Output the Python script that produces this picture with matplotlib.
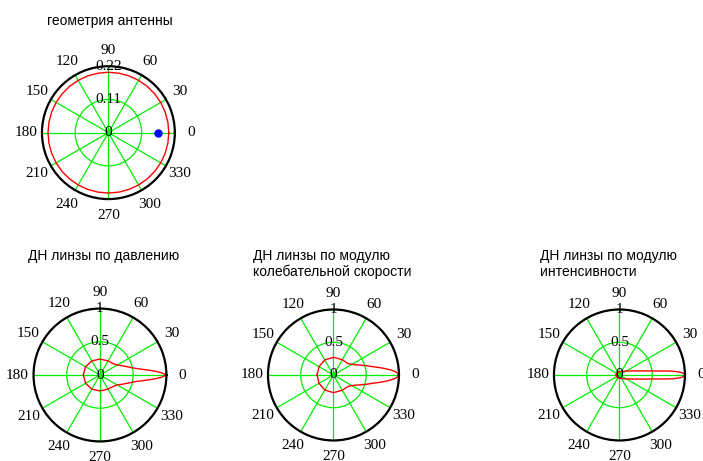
import numpy as np
import matplotlib
matplotlib.use('Agg')
import matplotlib.pyplot as plt

# angles (deg) and normalized radii, 0..180, mirrored below
pat_angles = [0, 2, 4, 6, 8, 10, 13, 16, 20, 25, 30, 40, 50, 60, 90, 120, 150, 180]
pressure = [1.0, 0.93, 0.83, 0.72, 0.63, 0.56, 0.49, 0.44, 0.39, 0.34, 0.30,
            0.265, 0.25, 0.245, 0.24, 0.245, 0.25, 0.25]

vel_angles = [0, 2, 3, 5, 7.4, 10, 12, 15.4, 20, 25, 32, 40, 50, 60, 90, 120, 150, 180]
velocity = [1.0, 0.97, 0.95, 0.88, 0.78, 0.68, 0.61, 0.53, 0.44, 0.37, 0.31,
            0.28, 0.27, 0.27, 0.27, 0.265, 0.255, 0.25]

int_angles = [0, 1, 2, 3, 4, 5, 6, 8, 10, 15, 20, 30, 45, 60, 90, 120, 150, 180]
intensity = [1.0, 0.99, 0.96, 0.9, 0.82, 0.7, 0.58, 0.44, 0.36, 0.24, 0.18,
             0.12, 0.08, 0.06, 0.05, 0.05, 0.05, 0.05]

geom_angles = list(range(0, 361, 10))
geom_r = [0.2] * len(geom_angles)
element_angle = 0
element_r = 0.163

angle_ticks = list(range(0, 360, 30))

GREEN = '#00ee00'


def mirror(angles, values):
    a = np.array(angles, dtype=float)
    v = np.array(values, dtype=float)
    a_full = np.concatenate([-a[::-1], a[1:]])
    v_full = np.concatenate([v[::-1], v[1:]])
    return np.deg2rad(a_full), v_full


def setup_polar(ax, rmax, rlabels):
    ax.set_ylim(0, rmax)
    ax.set_thetagrids(angle_ticks, [str(a) for a in angle_ticks],
                      fontfamily='Liberation Serif', fontsize=11)
    ax.tick_params(axis='x', pad=1)
    ax.set_yticks([rmax / 2, rmax])
    ax.set_yticklabels([])
    ax.grid(True, color=GREEN, linewidth=0.9)
    ax.spines['polar'].set_color('black')
    ax.spines['polar'].set_linewidth(1.6)
    for r, lab in zip([0, rmax / 2, rmax], rlabels):
        ax.text(np.pi / 2, r, lab, ha='center', va='center',
                fontfamily='Liberation Serif', fontsize=11, zorder=5)


fig = plt.figure(figsize=(7.03, 4.61), dpi=100)

ax0 = fig.add_axes([0.0597, 0.568, 0.189, 0.2885], projection='polar')
setup_polar(ax0, 0.22, ['0', '0.11', '0.22'])
ax0.plot(np.deg2rad(geom_angles), geom_r, color='red', linewidth=1)
ax0.plot(np.deg2rad(element_angle), element_r, 'o', color='blue', markersize=5)

rects = [[0.0477, 0.0423, 0.189, 0.2885],
         [0.3812, 0.0445, 0.1863, 0.2842],
         [0.788, 0.0445, 0.1863, 0.2842]]
series = [(pat_angles, pressure), (vel_angles, velocity), (int_angles, intensity)]
for rect, (ang, vals) in zip(rects, series):
    ax = fig.add_axes(rect, projection='polar')
    setup_polar(ax, 1.0, ['0', '0.5', '1'])
    th, r = mirror(ang, vals)
    ax.plot(th, r, color='red', linewidth=1)

title_kw = dict(fontfamily='Liberation Sans', fontsize=10, va='top', ha='left',
                linespacing=1.15)
fig.text(47 / 703, 1 - 14 / 461, 'геометрия антенны', **title_kw)
fig.text(28 / 703, 1 - 249 / 461, 'ДН линзы по давлению', **title_kw)
fig.text(253 / 703, 1 - 249 / 461, 'ДН линзы по модулю\nколебательной скорости', **title_kw)
fig.text(540 / 703, 1 - 249 / 461, 'ДН линзы по модулю\nинтенсивности', **title_kw)

plt.savefig('out.png', dpi=100)
